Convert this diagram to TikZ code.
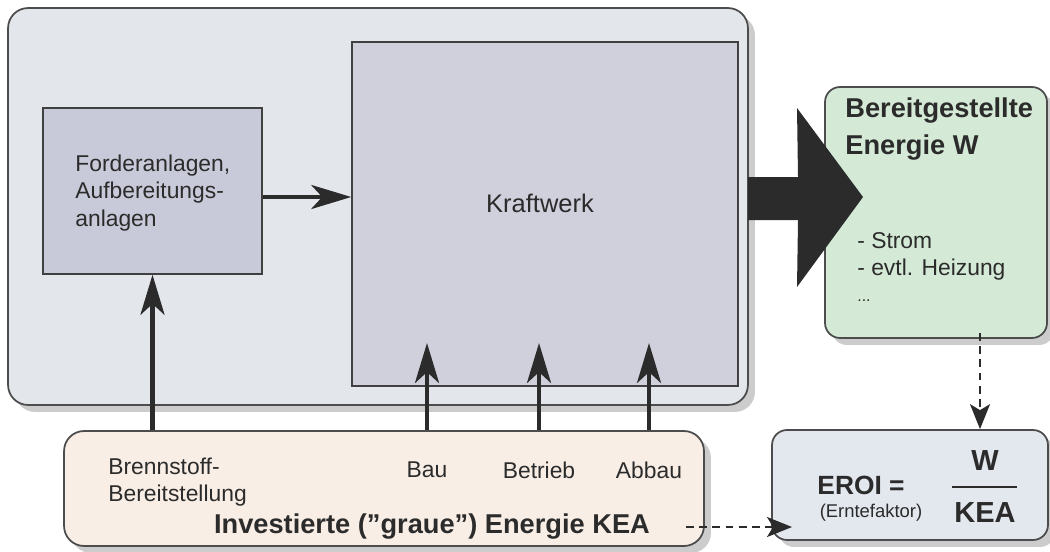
\documentclass[tikz,border=0pt]{standalone}
\usepackage{fontspec}
\setmainfont{Liberation Sans}
\usepackage{tikz}
\usetikzlibrary{arrows.meta, shadows, positioning}
\usepackage{xcolor}
\definecolor{plantgray}{HTML}{E3E6EA}
\definecolor{feedblue}{HTML}{C9CAD9}
\definecolor{kwlilac}{HTML}{D0CFDC}
\definecolor{outgreen}{HTML}{D5EAD6}
\definecolor{eroiblue}{HTML}{E3E7EE}
\definecolor{keabeige}{HTML}{F8EEE6}
\definecolor{inkgray}{HTML}{2B2B2B}

\begin{document}
\begin{tikzpicture}[x=0.02cm, y=-0.02cm,
        panel/.style={draw=black!70, line width=1pt, rounded corners=0.4cm,
            drop shadow={shadow xshift=0.14cm, shadow yshift=-0.14cm, fill=black!50, opacity=0.4}},
        unit/.style={draw=black!75, line width=0.9pt},
        txt/.style={text=inkgray, font=\fontsize{13}{15.5}\selectfont, inner sep=0pt},
        head/.style={text=inkgray, font=\bfseries\fontsize{15.5}{21.6}\selectfont, inner sep=0pt},
        feed/.style={line width=2.6pt, draw=inkgray, -{Stealth[length=0.8cm, width=0.48cm, inset=0.22cm]}},
        link/.style={line width=1.2pt, draw=inkgray, dash pattern=on 4.5pt off 3pt, -{Stealth[length=0.5cm, width=0.4cm, inset=0.12cm]}}]
    \useasboundingbox (0, 0) rectangle (1050, 551);
    % Boxes
    \node [panel, fill=plantgray, minimum width=14.8cm, minimum height=7.94cm] (plant) at (378, 206.5) {};
    \node [unit, fill=feedblue, minimum width=4.38cm, minimum height=3.32cm] (foerder) at (152.5, 191) {};
    \node [unit, fill=kwlilac, minimum width=7.72cm, minimum height=6.88cm] (kw) at (545, 214) {};
    \node [panel, rounded corners=0.3cm, fill=outgreen, minimum width=4.44cm, minimum height=5.02cm] (out) at (936, 212.5) {};
    \node [panel, fill=keabeige, minimum width=12.8cm, minimum height=2.3cm] (kea) at (384, 488.5) {};
    \node [panel, rounded corners=0.3cm, fill=eroiblue, minimum width=5.52cm, minimum height=2.2cm] (eroi) at (910, 485) {};
    % Texts
    \node [txt, align=left, anchor=west] (foerdertext) at (75, 193) {Forderanlagen,\\Aufbereitungs-\\anlagen};
    \node [txt, font=\fontsize{14.5}{17}\selectfont] (kwtext) at (540, 203) {Kraftwerk};
    \node [head, align=left, anchor=west] (wtitle) at (845, 129) {Bereitgestellte\\Energie W};
    \node [txt, align=left, anchor=west] (wlist) at (857, 256.5) {- Strom\\- evtl. Heizung};
    \node [txt, font=\fontsize{9}{10}\selectfont, anchor=west] (wmore) at (857, 301) {...};
    \node [txt, align=left, anchor=west] (fuel) at (108, 482) {Brennstoff-\\Bereitstellung};
    \node [txt] (bau) at (427, 470) {Bau};
    \node [txt] (betrieb) at (539, 470) {Betrieb};
    \node [txt] (abbau) at (649, 470) {Abbau};
    \node [head] (keatitle) at (432, 527) {Investierte ("graue") Energie KEA};
    \node [head, font=\bfseries\fontsize{15}{18}\selectfont] (eroilabel) at (861, 485) {EROI =};
    \node [txt, font=\fontsize{10.5}{12}\selectfont] (eroinote) at (871, 513) {(Erntefaktor)};
    \node [head, font=\bfseries\fontsize{16.5}{19}\selectfont] (num) at (985, 461) {W};
    \node [head, font=\bfseries\fontsize{16.5}{19}\selectfont] (den) at (985, 513) {KEA};
    \draw [line width=1.2pt, inkgray] (952, 487) -- (1017, 487);
    % Big output arrow
    \fill [inkgray] (748, 177) -- (798, 177) -- (797, 108) -- (863, 197) -- (797, 287) -- (798, 220) -- (748, 220) -- cycle;
    % Arrows
    \coordinate (feedout) at (263, 197);
    \coordinate (kwin) at (545, 343);
    \coordinate (wout) at (980, 333);
    \coordinate (keaout) at (686, 527);
    \coordinate (eroiin) at (792, 527);
    \draw [feed] (feedout) -- (feedout -| kw.west);
    \draw [feed] (foerder.south |- kea.north) -- (foerder.south);
    \draw [feed] (bau |- kea.north) -- (bau |- kwin);
    \draw [feed] (betrieb |- kea.north) -- (betrieb |- kwin);
    \draw [feed] (abbau |- kea.north) -- (abbau |- kwin);
    \draw [link] (wout) -- (wout |- eroi.north);
    \draw [link] (keaout) -- (eroiin);
\end{tikzpicture}
\end{document}
